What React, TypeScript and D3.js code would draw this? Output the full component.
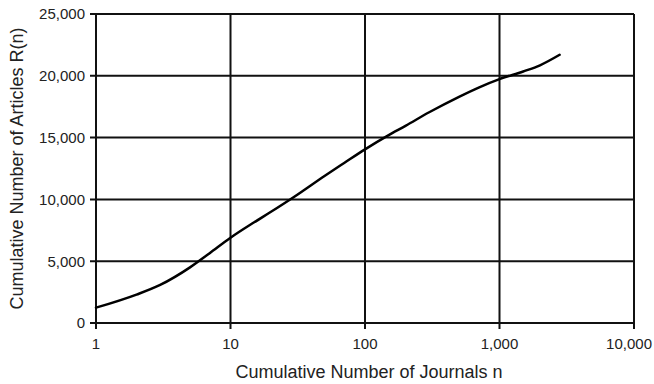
import * as d3 from 'd3';
import { useEffect, useRef } from 'react';

const journals = [1, 2, 3, 5, 7, 10, 15, 20, 30, 50, 70, 100, 150, 200, 300, 500, 700, 1000, 1500, 2000, 2800];
const articles = [1240, 2300, 3080, 4500, 5650, 6900, 8150, 9000, 10240, 11900, 12950, 14050, 15200, 15950, 17050, 18300, 19050, 19730, 20350, 20850, 21700];
const xTicks = [1, 10, 100, 1000, 10000];
const yTicks = [0, 5000, 10000, 15000, 20000, 25000];

export default function App() {
    const ref = useRef<SVGSVGElement>(null);

    useEffect(() => {
        const margin = { top: 14, right: 20, bottom: 61, left: 96 },
            width = 654 - margin.left - margin.right,
            height = 384 - margin.top - margin.bottom;

        const x = d3.scaleLog().domain([1, 10000]).range([0, width]);
        const y = d3.scaleLinear().domain([0, 25000]).range([height, 0]);
        const fmt = d3.format(',');

        const root = d3.select(ref.current);
        root.selectAll('*').remove();
        const svg = root.append('g')
            .attr('transform', 'translate(' + margin.left + ',' + margin.top + ')');

        // grid + tick marks
        svg.append('g').selectAll('line').data(yTicks).enter().append('line')
            .attr('x1', -6).attr('x2', width)
            .attr('y1', d => y(d)).attr('y2', d => y(d))
            .attr('stroke', '#111').attr('stroke-width', 2);
        svg.append('g').selectAll('line').data(xTicks).enter().append('line')
            .attr('x1', d => x(d)).attr('x2', d => x(d))
            .attr('y1', 0).attr('y2', height + 6)
            .attr('stroke', '#111').attr('stroke-width', 2);

        const font = 'Liberation Sans, Arial, sans-serif';
        svg.append('g').selectAll('text').data(yTicks).enter().append('text')
            .attr('x', -11).attr('y', d => y(d)).attr('dy', '0.36em')
            .attr('text-anchor', 'end').attr('font-family', font).attr('font-size', 15)
            .attr('fill', '#222').text(d => fmt(d));
        // last label would run off the edge, so pin its right end
        svg.append('g').selectAll('text').data(xTicks).enter().append('text')
            .attr('x', d => d === 10000 ? width + 18 : x(d)).attr('y', height + 26)
            .attr('text-anchor', d => d === 10000 ? 'end' : 'middle')
            .attr('font-family', font).attr('font-size', 15)
            .attr('fill', '#222').text(d => fmt(d));

        const line = d3.line<number>()
            .x((d, i) => x(journals[i]))
            .y(d => y(d))
            .curve(d3.curveMonotoneX);
        svg.append('path').datum(articles)
            .attr('d', line)
            .attr('fill', 'none').attr('stroke', '#000').attr('stroke-width', 2.5)
            .attr('stroke-linecap', 'round');

        svg.append('text')
            .attr('x', width / 2 + 4).attr('y', height + 55)
            .attr('text-anchor', 'middle').attr('font-family', font).attr('font-size', 18)
            .attr('fill', '#222').text('Cumulative Number of Journals n');
        svg.append('text')
            .attr('transform', 'translate(' + (-73) + ',' + (height / 2) + ') rotate(-90)')
            .attr('text-anchor', 'middle').attr('font-family', font).attr('font-size', 18)
            .attr('fill', '#222').text('Cumulative Number of Articles R(n)');
    }, []);

    return (
        <svg ref={ref} width={654} height={384}
            style={{ position: 'absolute', left: 0, top: 0 }} />
    );
}
